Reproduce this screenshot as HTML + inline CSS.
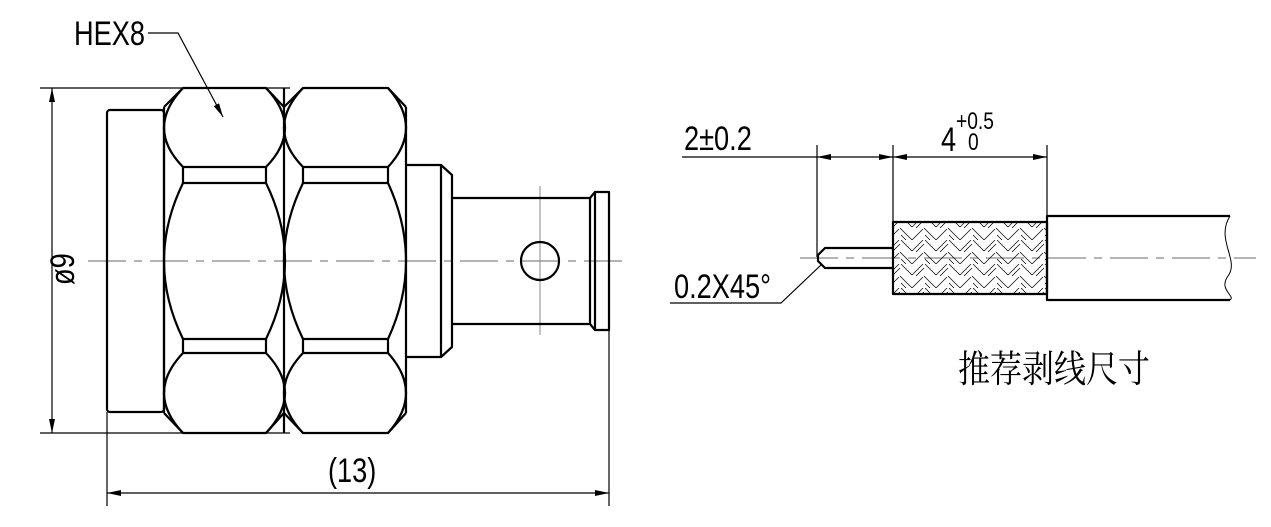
<!DOCTYPE html>
<html><head><meta charset="utf-8"><style>html,body{margin:0;padding:0;background:#fff}
.t{font-family:"Liberation Sans",sans-serif;fill:#000}</style></head>
<body>
<svg width="1271" height="522" viewBox="0 0 1271 522" xmlns="http://www.w3.org/2000/svg">
<defs>
<pattern id="h" width="24" height="24" patternUnits="userSpaceOnUse">
<g stroke="#000" stroke-width="0.7" fill="none">
<line x1="0" y1="11" x2="11" y2="0"/><line x1="4" y1="12" x2="12" y2="4"/>
<line x1="12" y1="12" x2="24" y2="24"/><line x1="13" y1="19" x2="18" y2="24"/>
<line x1="13" y1="0" x2="24" y2="11"/><line x1="0" y1="24" x2="11" y2="13"/>
</g></pattern>
<marker id="a" markerWidth="14" markerHeight="6" refX="14" refY="3" orient="auto" markerUnits="userSpaceOnUse"><path d="M0,0 L14,3 L0,6z" fill="#000"/></marker>
<marker id="b" markerWidth="14" markerHeight="6" refX="0" refY="3" orient="auto" markerUnits="userSpaceOnUse"><path d="M14,0 L0,3 L14,6z" fill="#000"/></marker>
</defs>
<g stroke="#888" stroke-width="1.2" fill="none" stroke-dasharray="38,8,8,8">
<line x1="88" y1="261" x2="630" y2="261"/>
<line x1="800" y1="258" x2="1256" y2="258"/>
</g>
<g stroke="#888" stroke-width="1" fill="none">
<line x1="540" y1="186" x2="540" y2="335"/>
</g>
<g stroke="#000" stroke-width="1.2" fill="none">
<line x1="40" y1="88" x2="290" y2="88"/>
<line x1="40" y1="433" x2="290" y2="433"/>
<line x1="52" y1="88" x2="52" y2="433" marker-start="url(#b)" marker-end="url(#a)"/>
<line x1="107" y1="412" x2="107" y2="506"/>
<line x1="609" y1="330" x2="609" y2="506"/>
<line x1="107" y1="493" x2="609" y2="493" marker-start="url(#b)" marker-end="url(#a)"/>
<polyline points="148,33 178,33 223,117" marker-end="url(#a)"/>
<line x1="817" y1="145" x2="817" y2="257"/>
<line x1="893" y1="145" x2="893" y2="222"/>
<line x1="1047" y1="145" x2="1047" y2="216"/>
<line x1="682" y1="157" x2="817" y2="157"/>
<line x1="817" y1="157" x2="893" y2="157" marker-start="url(#b)" marker-end="url(#a)"/>
<line x1="893" y1="157" x2="1047" y2="157" marker-start="url(#b)" marker-end="url(#a)"/>
<polyline points="670,303 781,303 821,265"/>
</g>
<g stroke="#000" stroke-width="2.2" fill="none" stroke-linejoin="round">
<rect x="107" y="110" width="57" height="302" rx="3"/>
<path d="M164,107 L183,88 L266,88 L284,107 M164,413 L183,433 L266,433 L284,413"/>
<line x1="164" y1="107" x2="164" y2="413"/>
<line x1="284" y1="88" x2="284" y2="433"/>
<path d="M183,88 Q145,128 183,167 M266,88 Q304,128 266,167"/>
<path d="M183,167 H266 M183,183 H266 M183,167 V183 M266,167 V183"/>
<path d="M183,183 Q145,261 183,339 M266,183 Q304,261 266,339"/>
<path d="M183,339 H266 M183,353 H266 M183,339 V353 M266,339 V353"/>
<path d="M183,353 Q145,393 183,433 M266,353 Q304,393 266,433"/>
<path d="M284,107 L303,88 L388,88 L406,107 M284,413 L303,433 L388,433 L406,413"/>
<line x1="406" y1="107" x2="406" y2="413"/>
<path d="M303,88 Q265,128 303,167 M388,88 Q424,128 388,167"/>
<path d="M303,167 H388 M303,183 H388 M303,167 V183 M388,167 V183"/>
<path d="M303,183 Q265,261 303,339 M388,183 Q424,261 388,339"/>
<path d="M303,339 H388 M303,353 H388 M303,339 V353 M388,339 V353"/>
<path d="M303,353 Q265,393 303,433 M388,353 Q424,393 388,433"/>
<path d="M406,165 H441 L452,175 V347 L441,357 H406"/>
<line x1="441" y1="165" x2="441" y2="357"/>
<path d="M452,198 H590 L595,192 H609 V330 H595 L590,324 H452"/>
<line x1="595" y1="192" x2="595" y2="330"/>
<line x1="590" y1="198" x2="590" y2="324"/>
<circle cx="540" cy="261" r="19"/>
<path d="M893,248 H825 L818,255 V261 L825,268 H893"/>
<rect x="893" y="222" width="154" height="72" fill="url(#h)"/>
<path d="M1230,216 H1047 V300 H1230"/>
</g>
<path d="M1230,216 C1215,240 1240,260 1228,276 C1218,290 1236,296 1230,300" stroke="#000" stroke-width="1" fill="none"/>
<line x1="540" y1="256" x2="540" y2="266" stroke="#888"/>
<line x1="535" y1="261" x2="545" y2="261" stroke="#888"/>
<g class="t">
<text x="0" y="0" style="font-size:34px" transform="translate(74,45) scale(0.8,1)">HEX8</text>
<text x="0" y="0" style="font-size:34px" transform="translate(74,285) rotate(-90) scale(0.8,1)">ø9</text>
<text x="0" y="0" style="font-size:34px" transform="translate(328,482) scale(0.8,1)">(13)</text>
<text x="0" y="0" style="font-size:34px" transform="translate(684,150) scale(0.8,1)">2±0.2</text>
<text x="0" y="0" style="font-size:34px" transform="translate(941,151) scale(0.8,1)">4</text>
<text x="0" y="0" style="font-size:24px" transform="translate(956,129) scale(0.8,1)">+0.5</text>
<text x="0" y="0" style="font-size:24px" transform="translate(968,150) scale(0.8,1)">0</text>
<text x="0" y="0" style="font-size:34px" transform="translate(674,298) scale(0.8,1)">0.2X45°</text>
</g>
<text x="0" y="0" style="font-size:32px;font-family:'Liberation Serif','Noto Serif CJK SC',serif" transform="translate(958,382) scale(1,1.18)">推荐剥线尺寸</text>
</svg>
</body></html>
